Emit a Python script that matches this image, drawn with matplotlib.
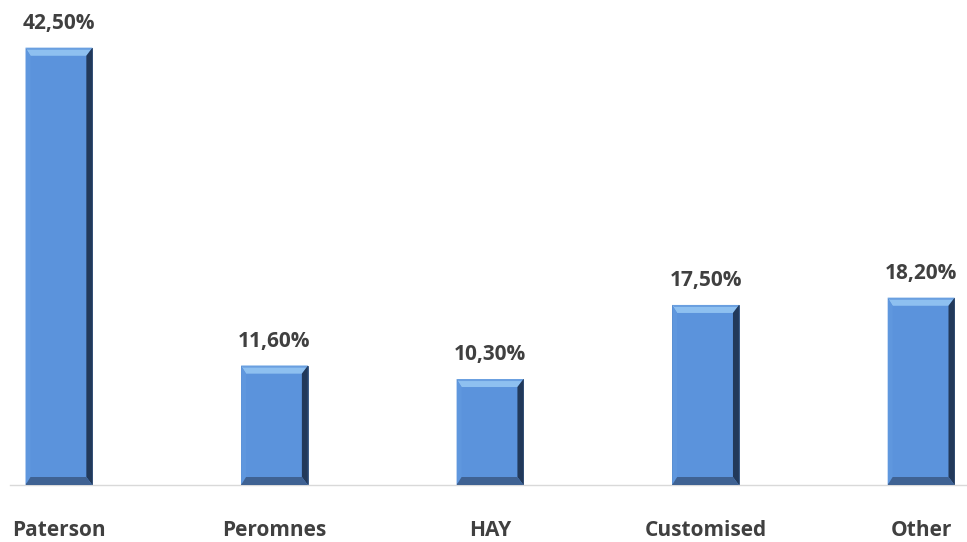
import matplotlib
matplotlib.use("Agg")
import matplotlib.pyplot as plt
from matplotlib.patches import Polygon
from matplotlib.transforms import IdentityTransform

categories = ["Paterson", "Peromnes", "HAY", "Customised", "Other"]
values = [42.5, 11.6, 10.3, 17.5, 18.2]
value_labels = ["42,50%", "11,60%", "10,30%", "17,50%", "18,20%"]

W, H, DPI = 967, 542, 100
fig = plt.figure(figsize=(W / DPI, H / DPI), dpi=DPI)
fig.patch.set_facecolor("white")
ax = fig.add_axes([10 / W, (H - 485) / H, (W - 10) / W, (485 - 20) / H])
ax.set_facecolor("white")

x = list(range(len(categories)))
bars = ax.bar(x, values, width=0.31, color="#5b93dc", edgecolor="#2a4a75",
              linewidth=0.6, zorder=2)
ax.set_xlim(-0.227, 4.213)
ax.set_ylim(0, 45.2)

for s in ["top", "right", "left"]:
    ax.spines[s].set_visible(False)
ax.spines["bottom"].set_color("#d9d9d9")
ax.spines["bottom"].set_linewidth(1.0)
ax.set_yticks([])
ax.set_xticks(x)
ax.set_xticklabels(categories, fontsize=15, color="#404040",
                   family=["Open Sans", "DejaVu Sans"], fontweight="bold")
ax.tick_params(axis="x", length=0, pad=25)

fig.canvas.draw()
bt, bs, bb_, bl = 8, 6, 8, 5  # bevel sizes (top, right, bottom, left) in pixels
for rect, lab in zip(bars, value_labels):
    e = rect.get_window_extent()
    x0, y0, x1, y1 = e.x0, e.y0, e.x1, e.y1
    # top bevel (light)
    ax.add_patch(Polygon([[x0, y1], [x1, y1], [x1 - bs, y1 - bt], [x0 + bl, y1 - bt]],
                         closed=True, transform=IdentityTransform(),
                         facecolor="#8ec0f0", edgecolor="none", zorder=3))
    ax.add_patch(Polygon([[x0, y1], [x1, y1], [x1 - 2, y1 - 2], [x0 + 2, y1 - 2]],
                         closed=True, transform=IdentityTransform(),
                         facecolor="#6a9fe0", edgecolor="none", zorder=3))
    # left bevel
    ax.add_patch(Polygon([[x0, y0], [x0, y1], [x0 + bl, y1 - bt], [x0 + bl, y0 + bb_]],
                         closed=True, transform=IdentityTransform(),
                         facecolor="#5f97de", edgecolor="none", zorder=3))
    # right bevel (dark)
    ax.add_patch(Polygon([[x1, y0], [x1, y1], [x1 - bs, y1 - bt], [x1 - bs, y0 + bb_]],
                         closed=True, transform=IdentityTransform(),
                         facecolor="#22395a", edgecolor="none", zorder=3))
    # bottom bevel
    ax.add_patch(Polygon([[x0, y0], [x1, y0], [x1 - bs, y0 + bb_], [x0 + bl, y0 + bb_]],
                         closed=True, transform=IdentityTransform(),
                         facecolor="#3f6293", edgecolor="none", zorder=3))
    ax.annotate(lab, xy=(rect.get_x() + rect.get_width() / 2, rect.get_height()),
                xytext=(0, 10), textcoords="offset points", ha="center", va="bottom",
                fontsize=15, color="#404040", fontweight="bold",
                family=["Open Sans", "DejaVu Sans"])

fig.savefig("out.png", dpi=DPI, facecolor="white")
